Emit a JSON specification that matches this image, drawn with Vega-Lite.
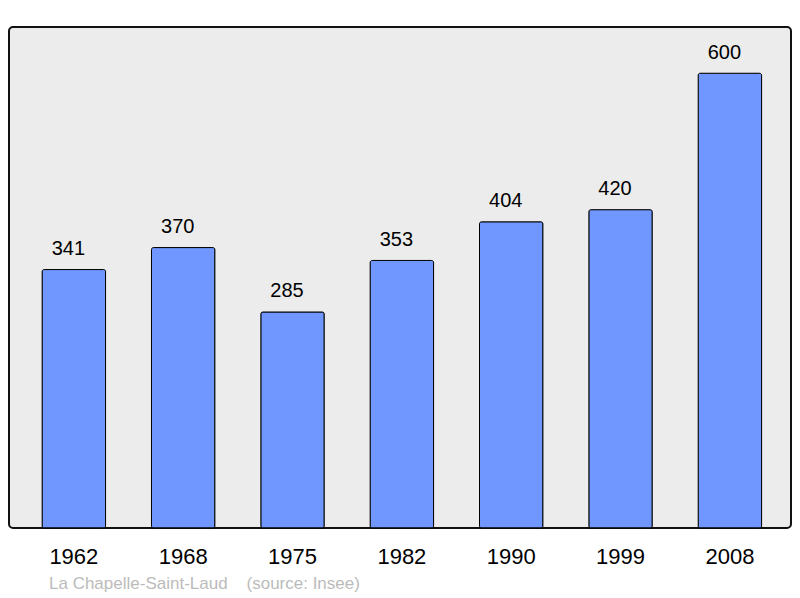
{
  "$schema": "https://vega.github.io/schema/vega-lite/v6.json",
  "width": 782,
  "height": 501,
  "autosize": "none",
  "padding": {"left": 9, "top": 27, "right": 9, "bottom": 70},
  "background": "white",
  "config": {
    "view": {"fill": "#ececec", "stroke": "#111111", "strokeWidth": 2, "cornerRadius": 4},
    "font": "Liberation Sans"
  },
  "title": {
    "text": "La Chapelle-Saint-Laud\u00a0\u00a0\u00a0\u00a0(source: Insee)",
    "orient": "bottom",
    "anchor": "start",
    "frame": "group",
    "offset": 9,
    "dx": 40,
    "color": "#bbbbbb",
    "fontSize": 17,
    "fontWeight": "normal",
    "font": "Liberation Sans"
  },
  "data": {
    "values": [
      {"year": "1962", "pop": 341},
      {"year": "1968", "pop": 370},
      {"year": "1975", "pop": 285},
      {"year": "1982", "pop": 353},
      {"year": "1990", "pop": 404},
      {"year": "1999", "pop": 420},
      {"year": "2008", "pop": 600}
    ]
  },
  "encoding": {
    "x": {
      "field": "year",
      "type": "nominal",
      "sort": null,
      "scale": {"paddingInner": 0.42, "paddingOuter": 0.286, "align": 0.53},
      "axis": {
        "title": null,
        "labelAngle": 0,
        "labelFontSize": 22,
        "labelColor": "#000000",
        "labelFont": "Liberation Sans",
        "labelPadding": 18,
        "domain": false,
        "ticks": false
      }
    },
    "y": {
      "field": "pop",
      "type": "quantitative",
      "scale": {"domain": [0, 661], "nice": false, "zero": true},
      "axis": null
    }
  },
  "layer": [
    {
      "mark": {"type": "bar", "fill": "#7097ff", "stroke": "#000000", "strokeWidth": 1, "cornerRadius": 2}
    },
    {
      "mark": {"type": "text", "baseline": "alphabetic", "dx": -5.5, "dy": -14.5, "fontSize": 20, "color": "#000000", "font": "Liberation Sans"},
      "encoding": {"text": {"field": "pop", "type": "quantitative"}}
    }
  ]
}
